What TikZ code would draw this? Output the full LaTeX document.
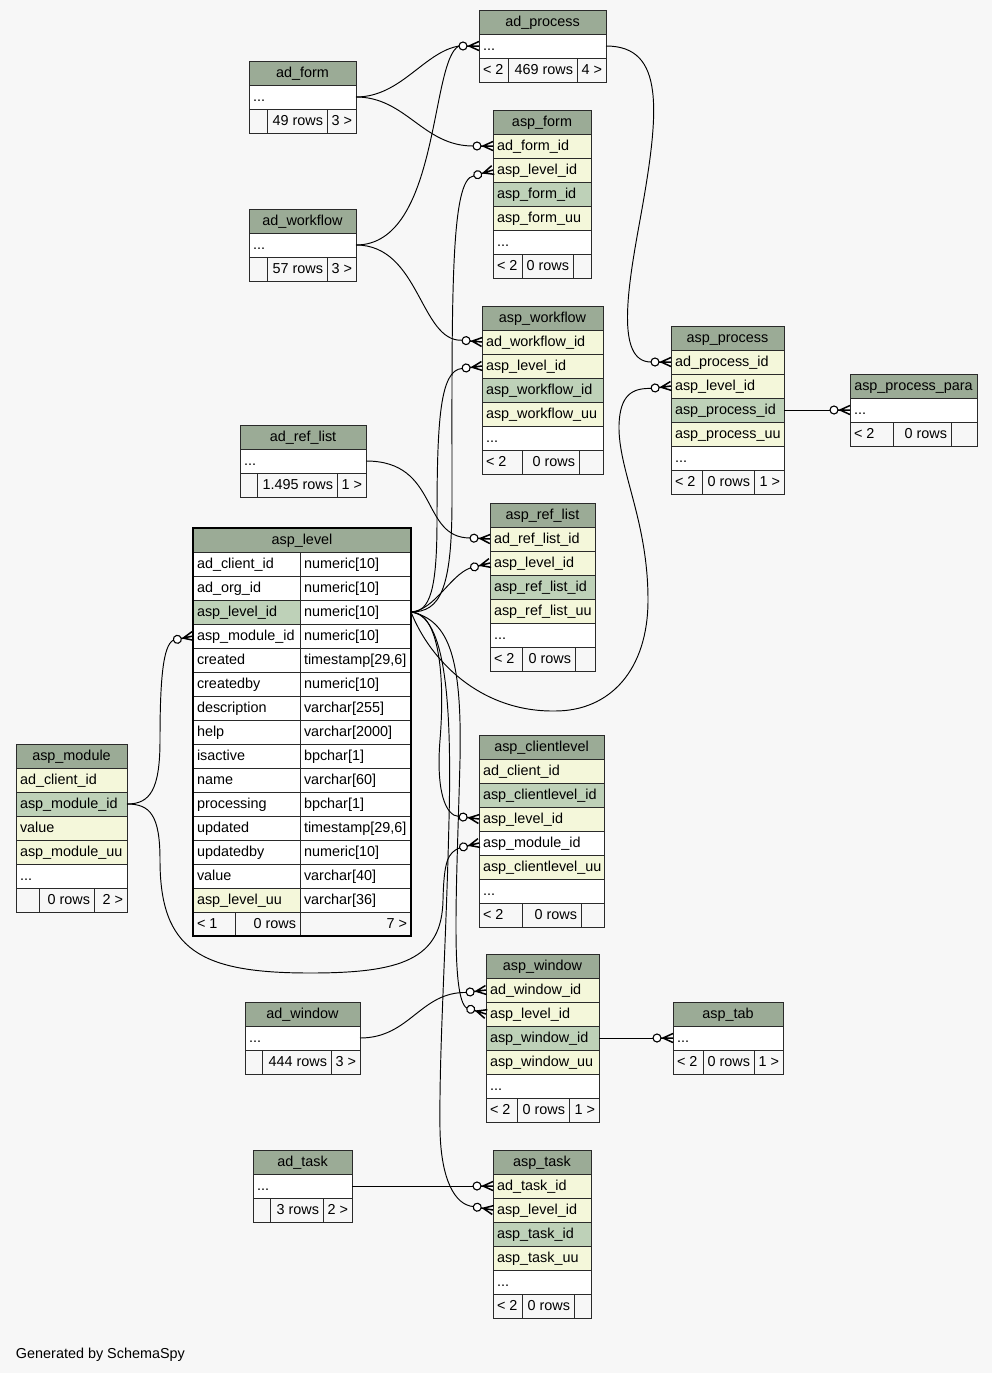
\documentclass[tikz,border=0pt]{standalone}
\usepackage{fontspec}
\setmainfont{Liberation Sans}
\usetikzlibrary{calc}
\definecolor{bgc}{HTML}{F7F7F7}
\definecolor{hdrc}{HTML}{9BAB96}
\definecolor{pkc}{HTML}{BED1B8}
\definecolor{fkc}{HTML}{F4F7DA}
\definecolor{bordc}{HTML}{2A2A2A}
\tikzset{
 cellbox/.style={draw=bordc, line width=1pt, inner sep=0pt, outer sep=0pt, minimum height=24pt, anchor=north west},
 txt/.style={inner sep=0pt, outer sep=0pt, font=\fontsize{14.4}{16}\selectfont},
 edge/.style={draw=black, line width=0.95pt},
 crow/.style={draw=black, line width=1.5pt},
 crowc/.style={draw=black, line width=1.1pt, fill=white},
}
\newcommand\tcell[6]{%
 \node[cellbox, fill=#5, minimum width={#3pt-#2pt}] (#1) at (#2,#4) {};
 \node[txt, anchor=base west] at ($(#1.north west)+(4,16.5)$) {#6};}
\newcommand\thdr[5]{%
 \node[cellbox, fill=hdrc, minimum width={#3pt-#2pt}] (#1) at (#2,#4) {};
 \node[txt, anchor=base] at ($(#1.north)+(0,16.5)$) {#5};}
\newcommand\tfl[5]{%
 \node[cellbox, fill=bgc, minimum width={#3pt-#2pt}] (#1) at (#2,#4) {};
 \node[txt, anchor=base west] at ($(#1.north west)+(4,16.5)$) {#5};}
\newcommand\tfr[5]{%
 \node[cellbox, fill=bgc, minimum width={#3pt-#2pt}] (#1) at (#2,#4) {};
 \node[txt, anchor=base east] at ($(#1.north east)+(-4,16.5)$) {#5};}
\newcommand\crowend[2]{%
 \begin{scope}[shift={(#1.west)}, rotate=#2]
  \draw[crow] (-10,0) -- (0,-4.5) (-12,0) -- (0,0) (-10,0) -- (0,4.5);
  \draw[crowc] (-16,0) circle (4pt);
  \coordinate (#1-in) at (-20,0);
 \end{scope}}
\begin{document}
\begin{tikzpicture}[x=1pt,y=-1pt]
\fill[bgc] (0,0) rectangle (992,1373);
\useasboundingbox (0,0) rectangle (992,1373);

% ad_process
\thdr{adproc-h}{479}{606}{10}{ad\_process}
\tcell{adproc-r1}{479}{606}{34}{white}{...}
\tfl{adproc-f1}{479}{508}{58}{< 2}
\tfr{adproc-f2}{508}{577}{58}{469 rows}
\tfr{adproc-f3}{577}{606}{58}{4 >}

% ad_form
\thdr{adform-h}{249}{356}{61}{ad\_form}
\tcell{adform-r1}{249}{356}{85}{white}{...}
\tfl{adform-f1}{249}{267}{109}{}
\tfr{adform-f2}{267}{327}{109}{49 rows}
\tfr{adform-f3}{327}{356}{109}{3 >}

% asp_form
\thdr{aspform-h}{493}{591}{110}{asp\_form}
\tcell{aspform-r1}{493}{591}{134}{fkc}{ad\_form\_id}
\tcell{aspform-r2}{493}{591}{158}{fkc}{asp\_level\_id}
\tcell{aspform-r3}{493}{591}{182}{pkc}{asp\_form\_id}
\tcell{aspform-r4}{493}{591}{206}{fkc}{asp\_form\_uu}
\tcell{aspform-r5}{493}{591}{230}{white}{...}
\tfl{aspform-f1}{493}{522}{254}{< 2}
\tfr{aspform-f2}{522}{573}{254}{0 rows}
\tfr{aspform-f3}{573}{591}{254}{}

% ad_workflow
\thdr{adwf-h}{249}{356}{209}{ad\_workflow}
\tcell{adwf-r1}{249}{356}{233}{white}{...}
\tfl{adwf-f1}{249}{267}{257}{}
\tfr{adwf-f2}{267}{327}{257}{57 rows}
\tfr{adwf-f3}{327}{356}{257}{3 >}

% asp_workflow
\thdr{aspwf-h}{482}{603}{306}{asp\_workflow}
\tcell{aspwf-r1}{482}{603}{330}{fkc}{ad\_workflow\_id}
\tcell{aspwf-r2}{482}{603}{354}{fkc}{asp\_level\_id}
\tcell{aspwf-r3}{482}{603}{378}{pkc}{asp\_workflow\_id}
\tcell{aspwf-r4}{482}{603}{402}{fkc}{asp\_workflow\_uu}
\tcell{aspwf-r5}{482}{603}{426}{white}{...}
\tfl{aspwf-f1}{482}{522}{450}{< 2}
\tfr{aspwf-f2}{522}{579}{450}{0 rows}
\tfr{aspwf-f3}{579}{603}{450}{}

% asp_process
\thdr{aspproc-h}{671}{784}{326}{asp\_process}
\tcell{aspproc-r1}{671}{784}{350}{fkc}{ad\_process\_id}
\tcell{aspproc-r2}{671}{784}{374}{fkc}{asp\_level\_id}
\tcell{aspproc-r3}{671}{784}{398}{pkc}{asp\_process\_id}
\tcell{aspproc-r4}{671}{784}{422}{fkc}{asp\_process\_uu}
\tcell{aspproc-r5}{671}{784}{446}{white}{...}
\tfl{aspproc-f1}{671}{702}{470}{< 2}
\tfr{aspproc-f2}{702}{754}{470}{0 rows}
\tfr{aspproc-f3}{754}{784}{470}{1 >}

% asp_process_para
\thdr{para-h}{850}{977}{374}{asp\_process\_para}
\tcell{para-r1}{850}{977}{398}{white}{...}
\tfl{para-f1}{850}{893}{422}{< 2}
\tfr{para-f2}{893}{951}{422}{0 rows}
\tfr{para-f3}{951}{977}{422}{}

% ad_ref_list
\thdr{adrl-h}{240}{366}{425}{ad\_ref\_list}
\tcell{adrl-r1}{240}{366}{449}{white}{...}
\tfl{adrl-f1}{240}{257}{473}{}
\tfr{adrl-f2}{257}{337}{473}{1.495 rows}
\tfr{adrl-f3}{337}{366}{473}{1 >}

% asp_ref_list
\thdr{asprl-h}{490}{595}{503}{asp\_ref\_list}
\tcell{asprl-r1}{490}{595}{527}{fkc}{ad\_ref\_list\_id}
\tcell{asprl-r2}{490}{595}{551}{fkc}{asp\_level\_id}
\tcell{asprl-r3}{490}{595}{575}{pkc}{asp\_ref\_list\_id}
\tcell{asprl-r4}{490}{595}{599}{fkc}{asp\_ref\_list\_uu}
\tcell{asprl-r5}{490}{595}{623}{white}{...}
\tfl{asprl-f1}{490}{522}{647}{< 2}
\tfr{asprl-f2}{522}{575}{647}{0 rows}
\tfr{asprl-f3}{575}{595}{647}{}

% asp_level
\thdr{lvl-h}{193}{411}{528}{asp\_level}
\tcell{lvl-r1a}{193}{300}{552}{white}{ad\_client\_id}
\tcell{lvl-r1b}{300}{411}{552}{white}{numeric[10]}
\tcell{lvl-r2a}{193}{300}{576}{white}{ad\_org\_id}
\tcell{lvl-r2b}{300}{411}{576}{white}{numeric[10]}
\tcell{lvl-r3a}{193}{300}{600}{pkc}{asp\_level\_id}
\tcell{lvl-r3b}{300}{411}{600}{white}{numeric[10]}
\tcell{lvl-r4a}{193}{300}{624}{white}{asp\_module\_id}
\tcell{lvl-r4b}{300}{411}{624}{white}{numeric[10]}
\tcell{lvl-r5a}{193}{300}{648}{white}{created}
\tcell{lvl-r5b}{300}{411}{648}{white}{timestamp[29,6]}
\tcell{lvl-r6a}{193}{300}{672}{white}{createdby}
\tcell{lvl-r6b}{300}{411}{672}{white}{numeric[10]}
\tcell{lvl-r7a}{193}{300}{696}{white}{description}
\tcell{lvl-r7b}{300}{411}{696}{white}{varchar[255]}
\tcell{lvl-r8a}{193}{300}{720}{white}{help}
\tcell{lvl-r8b}{300}{411}{720}{white}{varchar[2000]}
\tcell{lvl-r9a}{193}{300}{744}{white}{isactive}
\tcell{lvl-r9b}{300}{411}{744}{white}{bpchar[1]}
\tcell{lvl-r10a}{193}{300}{768}{white}{name}
\tcell{lvl-r10b}{300}{411}{768}{white}{varchar[60]}
\tcell{lvl-r11a}{193}{300}{792}{white}{processing}
\tcell{lvl-r11b}{300}{411}{792}{white}{bpchar[1]}
\tcell{lvl-r12a}{193}{300}{816}{white}{updated}
\tcell{lvl-r12b}{300}{411}{816}{white}{timestamp[29,6]}
\tcell{lvl-r13a}{193}{300}{840}{white}{updatedby}
\tcell{lvl-r13b}{300}{411}{840}{white}{numeric[10]}
\tcell{lvl-r14a}{193}{300}{864}{white}{value}
\tcell{lvl-r14b}{300}{411}{864}{white}{varchar[40]}
\tcell{lvl-r15a}{193}{300}{888}{fkc}{asp\_level\_uu}
\tcell{lvl-r15b}{300}{411}{888}{white}{varchar[36]}
\tfl{lvl-f1}{193}{235}{912}{< 1}
\tfr{lvl-f2}{235}{300}{912}{0 rows}
\tfr{lvl-f3}{300}{411}{912}{7 >}
\draw[line width=2.6pt, draw=black] (lvl-h.north west) rectangle (lvl-f3.south east);

% asp_module
\thdr{mod-h}{16}{127}{744}{asp\_module}
\tcell{mod-r1}{16}{127}{768}{fkc}{ad\_client\_id}
\tcell{mod-r2}{16}{127}{792}{pkc}{asp\_module\_id}
\tcell{mod-r3}{16}{127}{816}{fkc}{value}
\tcell{mod-r4}{16}{127}{840}{fkc}{asp\_module\_uu}
\tcell{mod-r5}{16}{127}{864}{white}{...}
\tfl{mod-f1}{16}{39}{888}{}
\tfr{mod-f2}{39}{94}{888}{0 rows}
\tfr{mod-f3}{94}{127}{888}{2 >}

% asp_clientlevel
\thdr{cl-h}{479}{604}{735}{asp\_clientlevel}
\tcell{cl-r1}{479}{604}{759}{fkc}{ad\_client\_id}
\tcell{cl-r2}{479}{604}{783}{pkc}{asp\_clientlevel\_id}
\tcell{cl-r3}{479}{604}{807}{fkc}{asp\_level\_id}
\tcell{cl-r4}{479}{604}{831}{white}{asp\_module\_id}
\tcell{cl-r5}{479}{604}{855}{fkc}{asp\_clientlevel\_uu}
\tcell{cl-r6}{479}{604}{879}{white}{...}
\tfl{cl-f1}{479}{522}{903}{< 2}
\tfr{cl-f2}{522}{581}{903}{0 rows}
\tfr{cl-f3}{581}{604}{903}{}

% asp_window
\thdr{win-h}{486}{599}{954}{asp\_window}
\tcell{win-r1}{486}{599}{978}{fkc}{ad\_window\_id}
\tcell{win-r2}{486}{599}{1002}{fkc}{asp\_level\_id}
\tcell{win-r3}{486}{599}{1026}{pkc}{asp\_window\_id}
\tcell{win-r4}{486}{599}{1050}{fkc}{asp\_window\_uu}
\tcell{win-r5}{486}{599}{1074}{white}{...}
\tfl{win-f1}{486}{517}{1098}{< 2}
\tfr{win-f2}{517}{569}{1098}{0 rows}
\tfr{win-f3}{569}{599}{1098}{1 >}

% asp_tab
\thdr{tab-h}{673}{783}{1002}{asp\_tab}
\tcell{tab-r1}{673}{783}{1026}{white}{...}
\tfl{tab-f1}{673}{703}{1050}{< 2}
\tfr{tab-f2}{703}{754}{1050}{0 rows}
\tfr{tab-f3}{754}{783}{1050}{1 >}

% ad_window
\thdr{adwin-h}{245}{360}{1002}{ad\_window}
\tcell{adwin-r1}{245}{360}{1026}{white}{...}
\tfl{adwin-f1}{245}{262}{1050}{}
\tfr{adwin-f2}{262}{331}{1050}{444 rows}
\tfr{adwin-f3}{331}{360}{1050}{3 >}

% ad_task
\thdr{adtask-h}{253}{352}{1150}{ad\_task}
\tcell{adtask-r1}{253}{352}{1174}{white}{...}
\tfl{adtask-f1}{253}{270}{1198}{}
\tfr{adtask-f2}{270}{323}{1198}{3 rows}
\tfr{adtask-f3}{323}{352}{1198}{2 >}

% asp_task
\thdr{task-h}{493}{591}{1150}{asp\_task}
\tcell{task-r1}{493}{591}{1174}{fkc}{ad\_task\_id}
\tcell{task-r2}{493}{591}{1198}{fkc}{asp\_level\_id}
\tcell{task-r3}{493}{591}{1222}{pkc}{asp\_task\_id}
\tcell{task-r4}{493}{591}{1246}{fkc}{asp\_task\_uu}
\tcell{task-r5}{493}{591}{1270}{white}{...}
\tfl{task-f1}{493}{522}{1294}{< 2}
\tfr{task-f2}{522}{574}{1294}{0 rows}
\tfr{task-f3}{574}{591}{1294}{}

% crow's feet
\crowend{adproc-r1}{0}
\crowend{aspform-r1}{0}
\crowend{aspform-r2}{17}
\crowend{aspwf-r1}{-5}
\crowend{aspwf-r2}{7}
\crowend{aspproc-r1}{0}
\crowend{aspproc-r2}{7}
\crowend{para-r1}{0}
\crowend{asprl-r1}{-3}
\crowend{asprl-r2}{14}
\crowend{lvl-r4a}{12}
\crowend{cl-r3}{-7}
\crowend{cl-r4}{14}
\crowend{win-r1}{7}
\crowend{win-r2}{-17}
\crowend{tab-r1}{0}
\crowend{task-r1}{0}
\crowend{task-r2}{-10}

% edges
\draw[edge] (adform-r1.east) .. controls +(45,0) and +(-35,6) .. (adproc-r1-in);
\draw[edge] (adwf-r1.east) .. controls (440,245) and (430,60) .. (adproc-r1-in);
\draw[edge] (adform-r1.east) .. controls +(50,0) and +(-50,0) .. (aspform-r1-in);
\draw[edge] (adwf-r1.east) .. controls (420,245) and (420,342) .. (aspwf-r1-in);
\draw[edge] (adproc-r1.east) .. controls (665,46) and (660,110) .. (640,220)
   .. controls (628,286) and (615,362) .. (aspproc-r1-in);
\draw[edge] (aspproc-r3.east) -- (para-r1-in);
\draw[edge] (adrl-r1.east) .. controls (440,461) and (420,538) .. (asprl-r1-in);

\draw[edge] (lvl-r3b.east) .. controls (440,612) and (452,590) .. (452,500)
   .. controls (452,300) and (450,178) .. (aspform-r2-in);
\draw[edge] (lvl-r3b.east) .. controls (430,612) and (437,590) .. (437,520)
   .. controls (437,420) and (440,370) .. (aspwf-r2-in);
\draw[edge] (lvl-r3b.east) .. controls (435,610) and (450,575) .. (asprl-r2-in);
\draw[edge] (lvl-r3b.east) .. controls (430,660) and (480,712) .. (555,711)
   .. controls (610,711) and (648,670) .. (648,600)
   .. controls (648,520) and (618,470) .. (619,425)
   .. controls (620,395) and (632,388) .. (aspproc-r2-in);
\draw[edge] (lvl-r3b.east) .. controls (440,612) and (445,680) .. (440,740)
   .. controls (436,790) and (445,816) .. (cl-r3-in);
\draw[edge] (lvl-r3b.east) .. controls (450,620) and (462,660) .. (460,760)
   .. controls (457,880) and (450,998) .. (win-r2-in);
\draw[edge] (lvl-r3b.east) .. controls (445,615) and (452,700) .. (449,820)
   .. controls (446,950) and (439,1050) .. (440,1130)
   .. controls (441,1180) and (455,1205) .. (task-r2-in);

\draw[edge] (mod-r2.east) .. controls (150,804) and (160,790) .. (160,740)
   .. controls (160,680) and (163,645) .. (lvl-r4a-in);
\draw[edge] (mod-r2.east) .. controls (150,804) and (160,815) .. (160,860)
   .. controls (160,950) and (200,973) .. (310,973)
   .. controls (400,973) and (442,960) .. (443,900)
   .. controls (444,860) and (448,853) .. (cl-r4-in);
\draw[edge] (adwin-r1.east) .. controls (410,1038) and (420,992) .. (win-r1-in);
\draw[edge] (win-r3.east) -- (tab-r1-in);
\draw[edge] (adtask-r1.east) -- (task-r1-in);

\node[txt, anchor=base west] (gen) at (16,1358) {Generated by SchemaSpy};
\end{tikzpicture}
\end{document}
